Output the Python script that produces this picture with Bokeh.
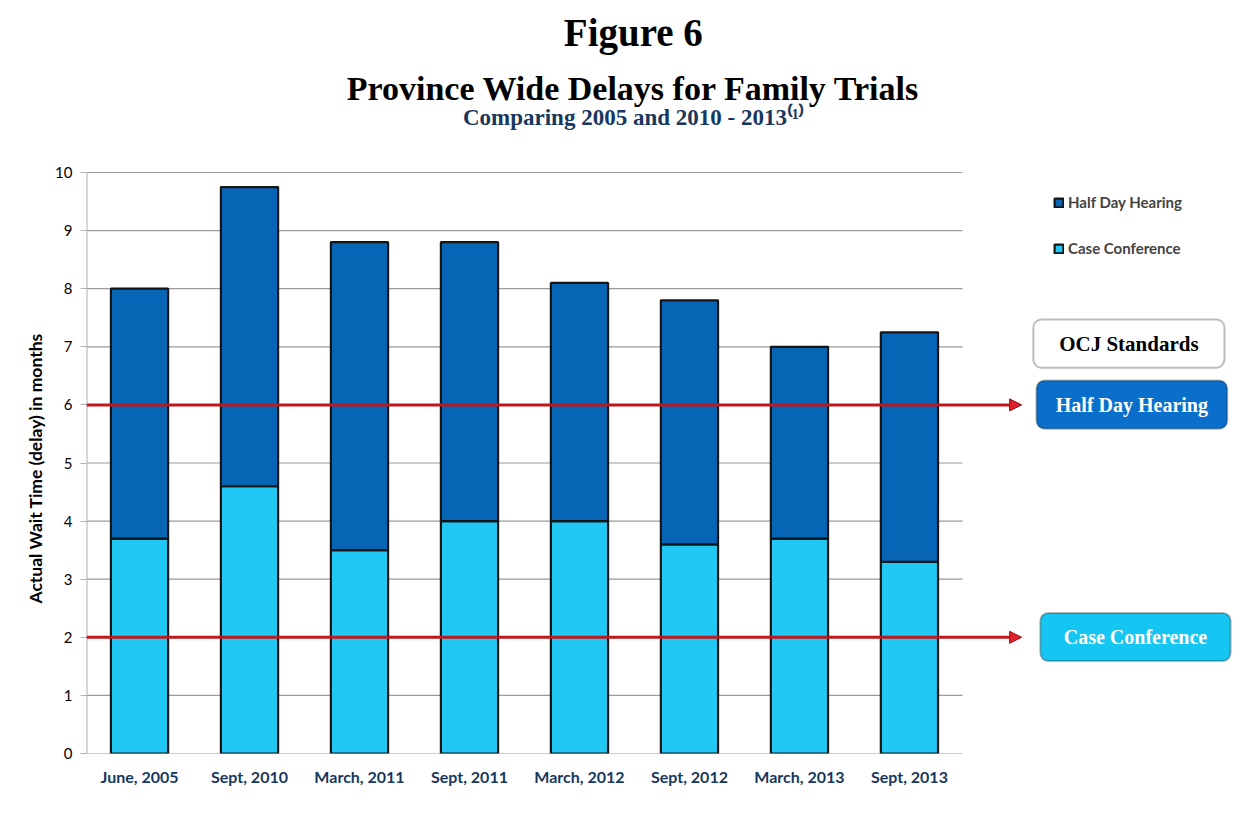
from bokeh.plotting import figure
from bokeh.models import (Range1d, FixedTicker, Legend, LegendItem, Arrow, Title,
                          NormalHead, BoxAnnotation, Label, ColumnDataSource)
from bokeh.embed import file_html
from bokeh.resources import INLINE

categories = ["June, 2005", "Sept, 2010", "March, 2011", "Sept, 2011",
              "March, 2012", "Sept, 2012", "March, 2013", "Sept, 2013"]
case_conference = [3.7, 4.6, 3.5, 4.0, 4.0, 3.6, 3.7, 3.3]
half_day_hearing = [4.3, 5.15, 5.3, 4.8, 4.1, 4.2, 3.3, 3.95]
standards = [6, 2]
standard_names = ["Half Day Hearing", "Case Conference"]
y_ticks = list(range(0, 11))

xs = list(range(len(categories)))
totals = [a + b for a, b in zip(case_conference, half_day_hearing)]
src = ColumnDataSource(dict(x=xs, cc=case_conference, hd=half_day_hearing, t=totals))

X_LEFT = -0.482
X_PLOT_RIGHT = 7.482
X_RIGHT = 10.01
Y_TOP = 753 / 58.1   # frame extends up to the top of the page (titles live in it)
FW, FH = 1154, 753

p = figure(frame_width=FW, frame_height=FH, output_backend="svg",
           toolbar_location=None, x_range=Range1d(X_LEFT, X_RIGHT),
           y_range=Range1d(0, Y_TOP), min_border_left=86, min_border_right=0,
           min_border_top=0, min_border_bottom=61,
           background_fill_color="#ffffff", border_fill_color="#ffffff",
           outline_line_color=None)
p.title.visible = False

# titles
def title_label(text, y, size, color):
    p.add_layout(Label(x=4.49, y=y, text=text, text_align="center",
                       text_baseline="middle", text_font="Liberation Serif",
                       text_font_style="bold", text_font_size=size,
                       text_color=color))

title_label("Figure 6", 12.41, "39px", "#000000")
title_label("Province Wide Delays for Family Trials", 11.45, "34px", "#000000")
title_label("Comparing 2005 and 2010 - 2013\u207d\u00b9\u207e", 10.95, "23px", "#17375E")

# plot area grid lines (stop at the end of the category area) and left axis line
p.xgrid.visible = False
p.ygrid.visible = False
p.segment(x0=[X_LEFT] * len(y_ticks), x1=[X_PLOT_RIGHT] * len(y_ticks),
          y0=y_ticks, y1=y_ticks, line_color="#9a9a9a", line_width=1.2)
p.segment(x0=[X_LEFT], x1=[X_LEFT], y0=[y_ticks[0]], y1=[y_ticks[-1]],
          line_color="#b0b0b0", line_width=2)

r_cc = p.vbar(x="x", top="cc", bottom=0, width=0.52, source=src,
              fill_color="#22C8F4", line_color="#151515", line_width=2.2)
r_hd = p.vbar(x="x", top="t", bottom="cc", width=0.52, source=src,
              fill_color="#0765B5", line_color="#151515", line_width=2.2)

# standards arrows
for s in standards:
    p.add_layout(Arrow(x_start=X_LEFT, x_end=8.02, y_start=s, y_end=s,
                       line_color="#C0171D", line_width=3,
                       end=NormalHead(size=12, fill_color="#E0202A",
                                      line_color="#8B0F14", line_width=1)))

# axes
p.xaxis.ticker = FixedTicker(ticks=xs)
p.xaxis.major_label_overrides = {i: c for i, c in enumerate(categories)}
p.xaxis.major_label_text_font = "Lato"
p.xaxis.major_label_text_font_style = "bold"
p.xaxis.major_label_text_font_size = "16px"
p.xaxis.major_label_text_color = "#17375E"
p.xaxis.major_label_standoff = 7
p.xaxis.axis_line_color = None
p.xaxis.major_tick_line_color = None
p.xaxis.minor_tick_line_color = None

p.yaxis.ticker = FixedTicker(ticks=y_ticks)
p.yaxis.major_label_text_font = "Lato"
p.yaxis.major_label_text_font_size = "15px"
p.yaxis.major_label_text_color = "#000000"
p.yaxis.axis_line_color = None
p.yaxis.major_tick_line_color = "#b0b0b0"
p.yaxis.major_tick_out = 6
p.yaxis.major_tick_in = 0
p.yaxis.minor_tick_line_color = None
p.yaxis.major_label_standoff = 8

# y axis title, positioned along the 0..10 part of the frame
p.add_layout(Title(text="Actual Wait Time (delay) in months", align="left",
                   offset=150, standoff=14, text_font="Lato",
                   text_font_style="bold", text_font_size="17.5px",
                   text_color="#000000"), "left")

# legend
legend = Legend(items=[LegendItem(label="Half Day Hearing", renderers=[r_hd]),
                       LegendItem(label="Case Conference", renderers=[r_cc])],
                location=(967, 496), orientation="vertical",
                background_fill_alpha=0, border_line_color=None,
                label_text_font="Lato", label_text_font_style="bold",
                label_text_font_size="15px", glyph_width=11, glyph_height=11,
                label_standoff=4, spacing=28, padding=4)
p.add_layout(legend)

# OCJ standards boxes
p.add_layout(BoxAnnotation(left=8.127, right=9.864, bottom=6.64, top=7.47,
                           fill_color="#ffffff", fill_alpha=1,
                           line_color="#202020", line_width=2, border_radius=8))
p.add_layout(Label(x=8.995, y=7.05, text="OCJ Standards", text_align="center",
                   text_baseline="middle", text_font="Liberation Serif",
                   text_font_style="bold", text_font_size="21px",
                   text_color="#000000"))
box_cols = ["#0A6FCB", "#15C6F3"]
box_pos = [(8.155, 9.89), (8.19, 9.92)]
for s, name, col, (l, r) in zip(standards, standard_names, box_cols, box_pos):
    p.add_layout(BoxAnnotation(left=l, right=r, bottom=s - 0.41, top=s + 0.42,
                               fill_color=col, fill_alpha=1, line_color="#1a1a1a",
                               line_width=2, border_radius=8))
    p.add_layout(Label(x=(l + r) / 2, y=s, text=name, text_align="center",
                       text_baseline="middle", text_font="Liberation Serif",
                       text_font_style="bold", text_font_size="20px",
                       text_color="#ffffff"))

open("out.html", "w").write(file_html(p, INLINE))
